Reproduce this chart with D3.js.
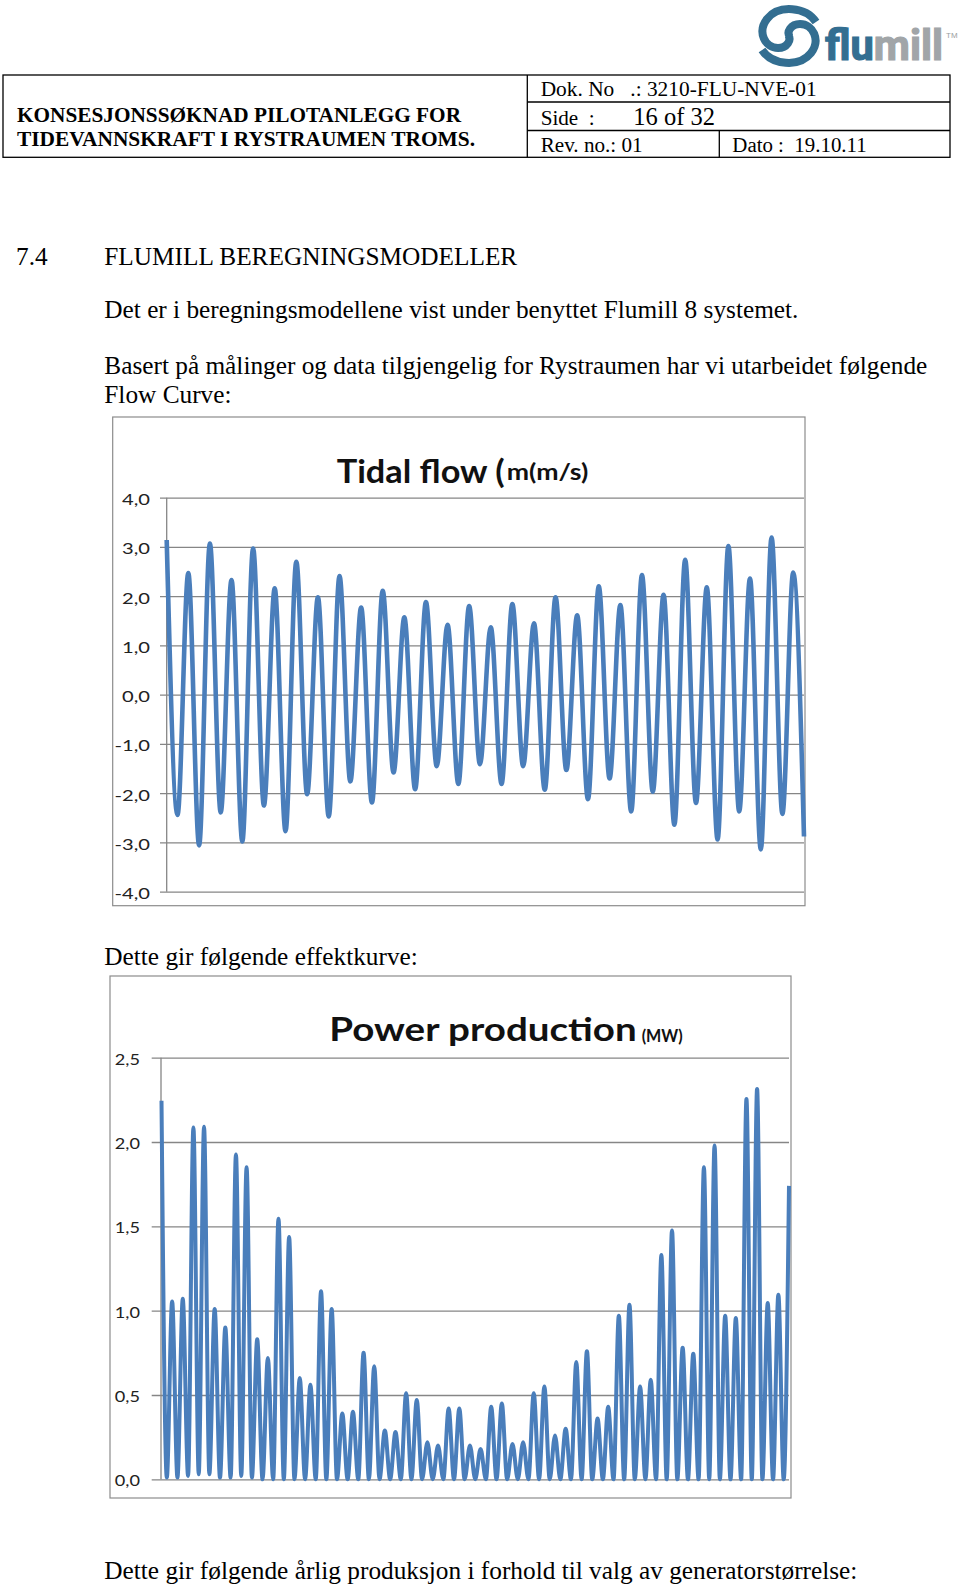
<!DOCTYPE html>
<html><head><meta charset="utf-8">
<script src="https://cdn.jsdelivr.net/npm/d3@7"></script>
<style>body{margin:0;background:#fff}svg{display:block}</style>
</head><body>
<svg id="page" width="960" height="1590"></svg>
<script>
// ---- Tidal flow (m/s): alternating flood peaks and ebb troughs
const tidalPeaks = [3.14, 2.47, 3.07, 2.33, 2.97, 2.16, 2.70, 1.98, 2.41, 1.77, 2.11, 1.57, 1.88, 1.42, 1.80,
                    1.37, 1.84, 1.45, 1.98, 1.61, 2.20, 1.82, 2.43, 2.03, 2.74, 2.18, 3.02, 2.36, 3.19, 2.48];
const tidalTroughs = [-2.44, -3.06, -2.39, -2.98, -2.25, -2.77, -2.02, -2.47, -1.76, -2.19, -1.58, -1.92, -1.45, -1.81, -1.41,
                      -1.81, -1.45, -1.93, -1.53, -2.12, -1.70, -2.37, -1.97, -2.64, -2.20, -2.94, -2.37, -3.14, -2.42, -2.88];
const tidalTicks = [4, 3, 2, 1, 0, -1, -2, -3, -4];

// ---- Power production (MW): one peak per half tide, near-zero between
const powerPeaks = [2.245, 1.055, 1.07, 2.086, 2.09, 1.01, 0.90, 1.926, 1.85, 0.83, 0.72, 1.545, 1.437, 0.60, 0.56,
                    1.115, 1.01, 0.39, 0.40, 0.75, 0.67, 0.29, 0.28, 0.51, 0.47, 0.22, 0.20, 0.42, 0.42, 0.20,
                    0.18, 0.43, 0.45, 0.21, 0.22, 0.51, 0.55, 0.26, 0.30, 0.695, 0.76, 0.36, 0.43, 0.97, 1.035,
                    0.55, 0.59, 1.33, 1.476, 0.78, 0.745, 1.85, 1.98, 0.97, 0.956, 2.255, 2.315, 1.045, 1.095, 1.74];
const powerTroughs = [0.01, 0.01, 0.02, 0.03, 0.03, 0.01, 0.01, 0.02, 0.01, 0, 0, 0, 0, 0, 0,
                      0, 0, 0, 0, 0, 0, 0, 0, 0, 0, 0, 0, 0, 0, 0,
                      0, 0, 0, 0, 0, 0, 0, 0, 0, 0, 0, 0, 0, 0, 0,
                      0, 0, 0, 0, 0, 0, 0, 0, 0, 0, 0, 0, 0, 0];
const powerTicks = [2.5, 2.0, 1.5, 1.0, 0.5, 0.0];

// ---- Page texts
const headerLeft = ["KONSESJONSSØKNAD PILOTANLEGG FOR", "TIDEVANNSKRAFT I RYSTRAUMEN TROMS."];
const bodyLines = [
  {t: "Det er i beregningsmodellene vist under benyttet Flumill 8 systemet.", y: 317.7},
  {t: "Basert på målinger og data tilgjengelig for Rystraumen har vi utarbeidet følgende", y: 374.3},
  {t: "Flow Curve:", y: 403.3},
  {t: "Dette gir følgende effektkurve:", y: 964.8},
  {t: "Dette gir følgende årlig produksjon i forhold til valg av generatorstørrelse:", y: 1579}
];

const svg = d3.select("#page");
const fmt = v => (Math.abs(v) < 1e-9 ? 0 : v).toFixed(1).replace(".", ",");
const LINE = "#4a7ebb", GRID = "#868686";

// ---------- Logo ----------
const logo = svg.append("g").attr("transform", "translate(789,36)");
const swirl = ["M27,-14 C17,-29 -10,-32 -22,-17 C-32,-4 -24,12 -11,12 C-2,12 3,4 -1,-1",
               "M-27,14 C-17,29 10,32 22,17 C32,4 24,-12 11,-12 C2,-12 -3,-4 1,1"];
logo.selectAll("path").data(swirl).join("path").attr("d", d => d)
  .attr("fill", "none").attr("stroke", "#336e91").attr("stroke-width", 8);
const lt = svg.append("text").attr("x", 825).attr("y", 60)
  .style("font-family", "Roboto").style("font-weight", 700).style("font-size", "42px")
  .attr("stroke-width", 1.2).attr("textLength", 118).attr("lengthAdjust", "spacingAndGlyphs");
lt.append("tspan").attr("fill", "#336e91").attr("stroke", "#336e91").text("flu");
lt.append("tspan").attr("fill", "#a1a5a8").attr("stroke", "#a1a5a8").text("mill");
svg.append("text").attr("x", 946).attr("y", 38).attr("fill", "#9a9ea1")
  .style("font-family", "Liberation Sans").style("font-size", "8px").text("TM");

// ---------- Header table ----------
const tbl = svg.append("g").attr("stroke", "#000").attr("stroke-width", 1.3).attr("fill", "none");
tbl.append("rect").attr("x", 3).attr("y", 75).attr("width", 947).attr("height", 82.3);
tbl.append("line").attr("x1", 527.3).attr("x2", 527.3).attr("y1", 75).attr("y2", 157.3);
tbl.append("line").attr("x1", 527.3).attr("x2", 950).attr("y1", 102).attr("y2", 102);
tbl.append("line").attr("x1", 527.3).attr("x2", 950).attr("y1", 130.5).attr("y2", 130.5);
tbl.append("line").attr("x1", 719.3).attr("x2", 719.3).attr("y1", 130.5).attr("y2", 157.3);

const serif = "'Liberation Serif', 'Times New Roman', serif";
const hdr = [
  {t: headerLeft[0], x: 17, y: 121.5, s: 21.5, w: 444, b: true},
  {t: headerLeft[1], x: 17, y: 146, s: 21.5, w: 458, b: true},
  {t: "Dok. No   .: 3210-FLU-NVE-01", x: 540.7, y: 96, s: 20, w: 276},
  {t: "Side  :", x: 540.7, y: 125, s: 20, w: 54},
  {t: "16 of 32", x: 633.3, y: 125, s: 26, w: 81.7},
  {t: "Rev. no.: 01", x: 540.7, y: 151.7, s: 20, w: 102},
  {t: "Dato :  19.10.11", x: 732.3, y: 151.7, s: 20, w: 134.4}
];
svg.selectAll("text.hdr").data(hdr).join("text").attr("class", "hdr")
  .attr("x", d => d.x).attr("y", d => d.y)
  .attr("textLength", d => d.w).attr("lengthAdjust", "spacingAndGlyphs")
  .style("white-space", "pre").style("font-family", serif)
  .style("font-size", d => d.s + "px").style("font-weight", d => d.b ? 700 : 400)
  .text(d => d.t);

// ---------- Body text ----------
const body = svg.append("g").style("font-family", serif).style("font-size", "25.3px").attr("fill", "#000");
body.append("text").attr("x", 16).attr("y", 265).text("7.4");
body.append("text").attr("x", 104.3).attr("y", 265).text("FLUMILL BEREGNINGSMODELLER");
body.selectAll("text.bl").data(bodyLines).join("text").attr("class", "bl")
  .attr("x", 104.3).attr("y", d => d.y).text(d => d.t);

// ---------- helper for stretched labels ----------
function stretch(sel, k) {
  sel.each(function() {
    const n = this.getComputedTextLength();
    d3.select(this).attr("textLength", n * k).attr("lengthAdjust", "spacingAndGlyphs");
  });
}

// ---------- Chart 1: Tidal flow ----------
const tidalSeries = [];
tidalPeaks.forEach((p, k) => {
  tidalSeries.push({i: 2 * k, v: p});
  tidalSeries.push({i: 2 * k + 1, v: tidalTroughs[k]});
});
const tx = d3.scaleLinear().domain([0, tidalSeries.length - 1]).range([166.7, 804]);
const ty = d3.scaleLinear().domain([-4, 4]).range([891.7, 497.7]);

const c1 = svg.append("g");
c1.append("rect").attr("x", 112.7).attr("y", 417).attr("width", 692.3).attr("height", 488.7)
  .attr("fill", "#fff").attr("stroke", "#8c8c8c").attr("stroke-width", 1.2);
const g1 = c1.append("g").attr("transform", "translate(160,0)")
  .call(d3.axisLeft(ty).tickValues(tidalTicks).tickSize(-(804 - 160)).tickFormat(""));
g1.select(".domain").remove();
g1.selectAll(".tick line").attr("stroke", GRID).attr("stroke-width", 1.3);
c1.append("line").attr("x1", 166.7).attr("x2", 166.7).attr("y1", ty(4)).attr("y2", ty(-4))
  .attr("stroke", GRID).attr("stroke-width", 1.3);
const l1 = c1.selectAll("text.tk").data(tidalTicks).join("text").attr("class", "tk")
  .attr("x", 150).attr("y", d => ty(d) + 7.5).attr("text-anchor", "end")
  .style("font-family", "Lato, 'Open Sans', sans-serif").style("font-size", "15.5px").attr("fill", "#222")
  .text(fmt);
stretch(l1, 1.3);
c1.append("path").datum(tidalSeries)
  .attr("d", d3.line().x(d => tx(d.i)).y(d => ty(d.v)).curve(d3.curveMonotoneX))
  .attr("fill", "none").attr("stroke", LINE).attr("stroke-width", 4.6).attr("stroke-linejoin", "round");
c1.append("text").attr("x", 336.7).attr("y", 482.7)
  .style("font-family", "Lato, 'Open Sans', sans-serif").style("font-weight", 700).style("font-size", "31.5px")
  .attr("textLength", 168).attr("lengthAdjust", "spacingAndGlyphs").attr("fill", "#111").text("Tidal flow (");
c1.append("text").attr("x", 506.7).attr("y", 479.5)
  .style("font-family", "Lato, 'Open Sans', sans-serif").style("font-weight", 700).style("font-size", "22px")
  .attr("textLength", 81.6).attr("lengthAdjust", "spacingAndGlyphs").attr("fill", "#111").text("m(m/s)");

// ---------- Chart 2: Power production ----------
const powerSeries = [];
powerPeaks.forEach((p, k) => {
  powerSeries.push({i: k, v: p});
  if (k < powerTroughs.length) powerSeries.push({i: k + 0.5, v: powerTroughs[k]});
});
const px = d3.scaleLinear().domain([0, powerPeaks.length - 1]).range([161.5, 789]);
const py = d3.scaleLinear().domain([0, 2.5]).range([1479.3, 1057.7]);

const c2 = svg.append("g");
c2.append("rect").attr("x", 110).attr("y", 976).attr("width", 681).attr("height", 522)
  .attr("fill", "#fff").attr("stroke", "#8c8c8c").attr("stroke-width", 1.2);
const g2 = c2.append("g").attr("transform", "translate(151.7,0)")
  .call(d3.axisLeft(py).tickValues(powerTicks).tickSize(-(789 - 151.7)).tickFormat(""));
g2.select(".domain").remove();
g2.selectAll(".tick line").attr("stroke", GRID).attr("stroke-width", 1.3);
c2.append("line").attr("x1", 161).attr("x2", 161).attr("y1", py(2.5)).attr("y2", py(0))
  .attr("stroke", GRID).attr("stroke-width", 1.3);
const l2 = c2.selectAll("text.tk").data(powerTicks).join("text").attr("class", "tk")
  .attr("x", 140).attr("y", d => py(d) + 7).attr("text-anchor", "end")
  .style("font-family", "Lato, 'Open Sans', sans-serif").style("font-size", "15.5px").attr("fill", "#222")
  .text(fmt);
stretch(l2, 1.17);
c2.append("path").datum(powerSeries)
  .attr("d", d3.line().x(d => px(d.i)).y(d => py(d.v)).curve(d3.curveMonotoneX))
  .attr("fill", "none").attr("stroke", LINE).attr("stroke-width", 4).attr("stroke-linejoin", "round");
c2.append("text").attr("x", 329.3).attr("y", 1041)
  .style("font-family", "Lato, 'Open Sans', sans-serif").style("font-weight", 700).style("font-size", "31.5px")
  .attr("textLength", 307.4).attr("lengthAdjust", "spacingAndGlyphs").attr("fill", "#111").text("Power production");
c2.append("text").attr("x", 641.7).attr("y", 1041.5)
  .style("font-family", "Lato, 'Open Sans', sans-serif").style("font-weight", 700).style("font-size", "16.5px")
  .attr("textLength", 41).attr("lengthAdjust", "spacingAndGlyphs").attr("fill", "#111").text("(MW)");
</script>
</body></html>
